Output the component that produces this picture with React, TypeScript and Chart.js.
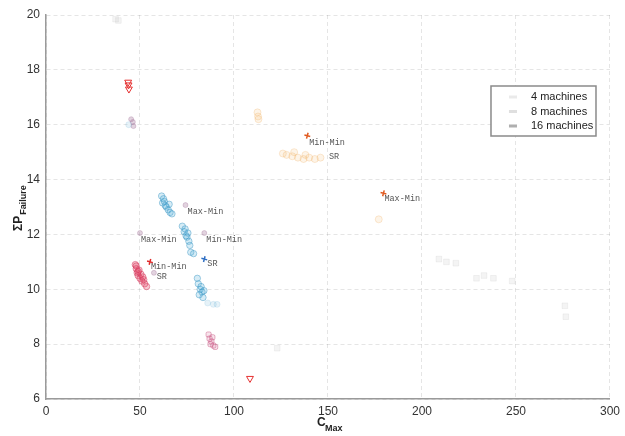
import React, { useEffect, useRef } from "react";
import { Chart, registerables } from "chart.js";

Chart.register(...registerables);

// ---- Axis ticks ----
const xTicks = [0, 50, 100, 150, 200, 250, 300];
const yTicks = [6, 8, 10, 12, 14, 16, 18, 20];

// ---- Legend ----
const legendLabels = ["4 machines", "8 machines", "16 machines"];

// ---- Clusters (C_Max, ΣP_Failure) ----
const crimsonX = [47.5, 48, 48.5, 49, 49.5, 50, 50.5, 51, 52, 52.5, 48, 49, 51.5, 53.5];
const crimsonY = [10.9, 10.75, 10.6, 10.5, 10.7, 10.4, 10.55, 10.3, 10.35, 10.2, 10.85, 10.65, 10.45, 10.1];

const blueX = [61.5, 62, 63, 64, 65, 66, 67, 63.5, 65.5, 62.5, 72.5, 73.5, 74, 75, 76, 76.5, 74.5, 75.5, 77, 78.5, 80.5, 81, 82, 83, 82.5, 83.5, 81.5, 84];
const blueY = [13.4, 13.15, 13.2, 13.0, 12.9, 12.8, 12.75, 13.05, 13.1, 13.3, 12.3, 12.1, 12.2, 11.9, 11.75, 11.6, 11.95, 12.05, 11.35, 11.3, 10.4, 10.2, 10.0, 9.9, 10.1, 9.7, 9.8, 9.95];

const faintBlueX = [86, 89, 91, 44];
const faintBlueY = [9.5, 9.45, 9.45, 16.0];

const magentaX = [86.5, 87, 88, 89, 88.5, 87.5, 90];
const magentaY = [8.35, 8.2, 8.1, 7.95, 8.25, 8.0, 7.9];

const purpleX = [45.3, 46.2, 46.5, 74.2, 84.2, 50, 57.4];
const purpleY = [16.2, 16.1, 15.95, 13.07, 12.05, 12.05, 10.6];

const orangeX = [112.5, 112.8, 113, 126, 128, 131, 134, 137, 140, 143, 146, 132, 138, 177];
const orangeY = [16.45, 16.3, 16.2, 14.95, 14.9, 14.85, 14.8, 14.75, 14.8, 14.75, 14.8, 15.0, 14.9, 12.55];

const grayX = [209, 213, 218, 229, 233, 238, 248, 276, 276.5, 37, 38.5, 123];
const grayY = [11.1, 11.0, 10.95, 10.4, 10.5, 10.4, 10.3, 9.4, 9.0, 19.85, 19.8, 7.85];

const triangleX = [43.7, 43.9, 44.1, 108.5];
const triangleY = [17.55, 17.45, 17.3, 6.75];

const markRedX = [55.3];
const markRedY = [11.0];
const markBlueX = [84.2];
const markBlueY = [11.1];
const markOrangeX = [139, 179.5];
const markOrangeY = [15.6, 13.5];

// ---- Annotations (text anchor in data units) ----
const noteText = ["Min-Min", "SR", "Max-Min", "Max-Min", "Min-Min", "SR", "Min-Min", "SR", "Max-Min"];
const noteX = [55.8, 58.9, 50.5, 75.3, 85.3, 85.8, 140, 150.5, 180];
const noteY = [10.81, 10.45, 11.8, 12.82, 11.8, 10.92, 15.33, 14.82, 13.29];

const zip = (xs: number[], ys: number[]) => xs.map((x, i) => ({ x, y: ys[i] }));

const overlayPlugin = {
  id: "overlay",
  afterDatasetsDraw(chart: any) {
    const { ctx, chartArea, scales } = chart;
    const xs = scales.x;
    const ys = scales.y;
    ctx.save();
    // annotations
    ctx.font = '8.5px "Liberation Mono", monospace';
    ctx.fillStyle = "#555";
    ctx.textAlign = "left";
    ctx.textBaseline = "middle";
    noteText.forEach((t, i) => {
      ctx.fillText(t, xs.getPixelForValue(noteX[i]), ys.getPixelForValue(noteY[i]));
    });

    // legend
    const lx = chartArea.right - 119;
    const ly = chartArea.top + 71;
    const lw = 105;
    const lh = 50;
    ctx.fillStyle = "#fff";
    ctx.fillRect(lx, ly, lw, lh);
    ctx.strokeStyle = "#8a8a8a";
    ctx.lineWidth = 1.5;
    ctx.strokeRect(lx, ly, lw, lh);
    ctx.font = '11px "Liberation Sans", Arial, sans-serif';
    ctx.textBaseline = "middle";
    const glyph = ["rgba(150,150,150,0.2)", "rgba(150,150,150,0.3)", "rgba(110,110,110,0.55)"];
    legendLabels.forEach((t, i) => {
      const cy = ly + 11 + i * 14.5;
      ctx.fillStyle = glyph[i];
      ctx.fillRect(lx + 18, cy - 1.5, 8, 3);
      ctx.fillStyle = "#222";
      ctx.fillText(t, lx + 40, cy);
    });

    // axis titles
    ctx.fillStyle = "#222";
    const cx = (chartArea.left + chartArea.right) / 2;
    ctx.textBaseline = "alphabetic";
    ctx.font = 'bold 12px "Liberation Sans", Arial, sans-serif';
    ctx.fillText("C", cx - 11, chartArea.bottom + 27);
    ctx.font = 'bold 9px "Liberation Sans", Arial, sans-serif';
    ctx.fillText("Max", cx - 3, chartArea.bottom + 32);

    const cyMid = (chartArea.top + chartArea.bottom) / 2;
    ctx.translate(22, cyMid + 24);
    ctx.rotate(-Math.PI / 2);
    ctx.font = 'bold 12px "Liberation Sans", Arial, sans-serif';
    ctx.fillText("ΣP", 0, 0);
    const w = ctx.measureText("ΣP").width;
    ctx.font = 'bold 9px "Liberation Sans", Arial, sans-serif';
    ctx.fillText("Failure", w + 1, 4);
    ctx.restore();
  },
};

export default function App() {
  const ref = useRef<HTMLCanvasElement>(null);

  useEffect(() => {
    if (!ref.current) return;
    const pt = (data: any, color: string, radius: number, style: any = "circle", extra: any = {}) => ({
      data,
      pointStyle: style,
      pointRadius: radius,
      backgroundColor: color,
      borderColor: color,
      borderWidth: 1,
      showLine: false,
      ...extra,
    });
    const chart = new Chart(ref.current, {
      type: "scatter",
      data: {
        datasets: [
          pt(zip(grayX, grayY), "rgba(120,120,120,0.08)", 4, "rect"),
          pt(zip(faintBlueX, faintBlueY), "rgba(90,170,210,0.15)", 3),
          pt(zip(orangeX, orangeY), "rgba(235,160,70,0.22)", 3.5, "circle", { backgroundColor: "rgba(240,180,100,0.15)" }),
          pt(zip(purpleX, purpleY), "rgba(160,110,150,0.3)", 2.5),
          pt(zip(magentaX, magentaY), "rgba(190,60,110,0.4)", 3, "rectRounded", { backgroundColor: "rgba(220,120,160,0.2)" }),
          pt(zip(blueX, blueY), "rgba(40,140,190,0.4)", 3.2, "circle", { backgroundColor: "rgba(90,180,220,0.25)" }),
          pt(zip(crimsonX, crimsonY), "rgba(210,40,80,0.45)", 3.2, "circle", { backgroundColor: "rgba(225,80,110,0.3)" }),
          pt(zip(triangleX, triangleY), "#e53030", 4, "triangle", { backgroundColor: "rgba(0,0,0,0)", rotation: 180 }),
          pt(zip(markRedX, markRedY), "#e02828", 3, "cross", { borderWidth: 1.5, rotation: 15 }),
          pt(zip(markBlueX, markBlueY), "#2f6fc4", 3, "cross", { borderWidth: 1.5, rotation: 15 }),
          pt(zip(markOrangeX, markOrangeY), "#e05a20", 3, "cross", { borderWidth: 1.5, rotation: 15 }),
        ],
      },
      options: {
        responsive: false,
        animation: false,
        events: [],
        layout: { padding: { top: 15, right: 9, left: 0, bottom: 0 } },
        plugins: { legend: { display: false }, tooltip: { enabled: false } },
        scales: {
          x: {
            type: "linear",
            min: 0,
            max: 300,
            afterBuildTicks: (s: any) => { s.ticks = xTicks.map((v) => ({ value: v })); },
            afterFit: (s: any) => { s.height = 37; },
            grid: { color: "rgba(0,0,0,0.1)", drawTicks: false },
            border: { color: "#9a9a9a", width: 1.5, dash: [4, 3] },
            ticks: { color: "#333", padding: 5, font: { family: '"Liberation Sans", Arial, sans-serif', size: 12 } },
          },
          y: {
            type: "linear",
            min: 6,
            max: 20,
            afterBuildTicks: (s: any) => { s.ticks = yTicks.map((v) => ({ value: v })); },
            afterFit: (s: any) => { s.width = 46; },
            grid: { color: "rgba(0,0,0,0.1)", drawTicks: false },
            border: { color: "#9a9a9a", width: 1.5, dash: [4, 3] },
            ticks: { color: "#333", padding: 6, font: { family: '"Liberation Sans", Arial, sans-serif', size: 12 } },
          },
        },
      },
      plugins: [overlayPlugin],
    } as any);
    return () => chart.destroy();
  }, []);

  return (
    <div style={{ position: "absolute", left: 0, top: 0, width: 625, height: 436, background: "#fff" }}>
      <canvas ref={ref} width={625} height={436} />
    </div>
  );
}
